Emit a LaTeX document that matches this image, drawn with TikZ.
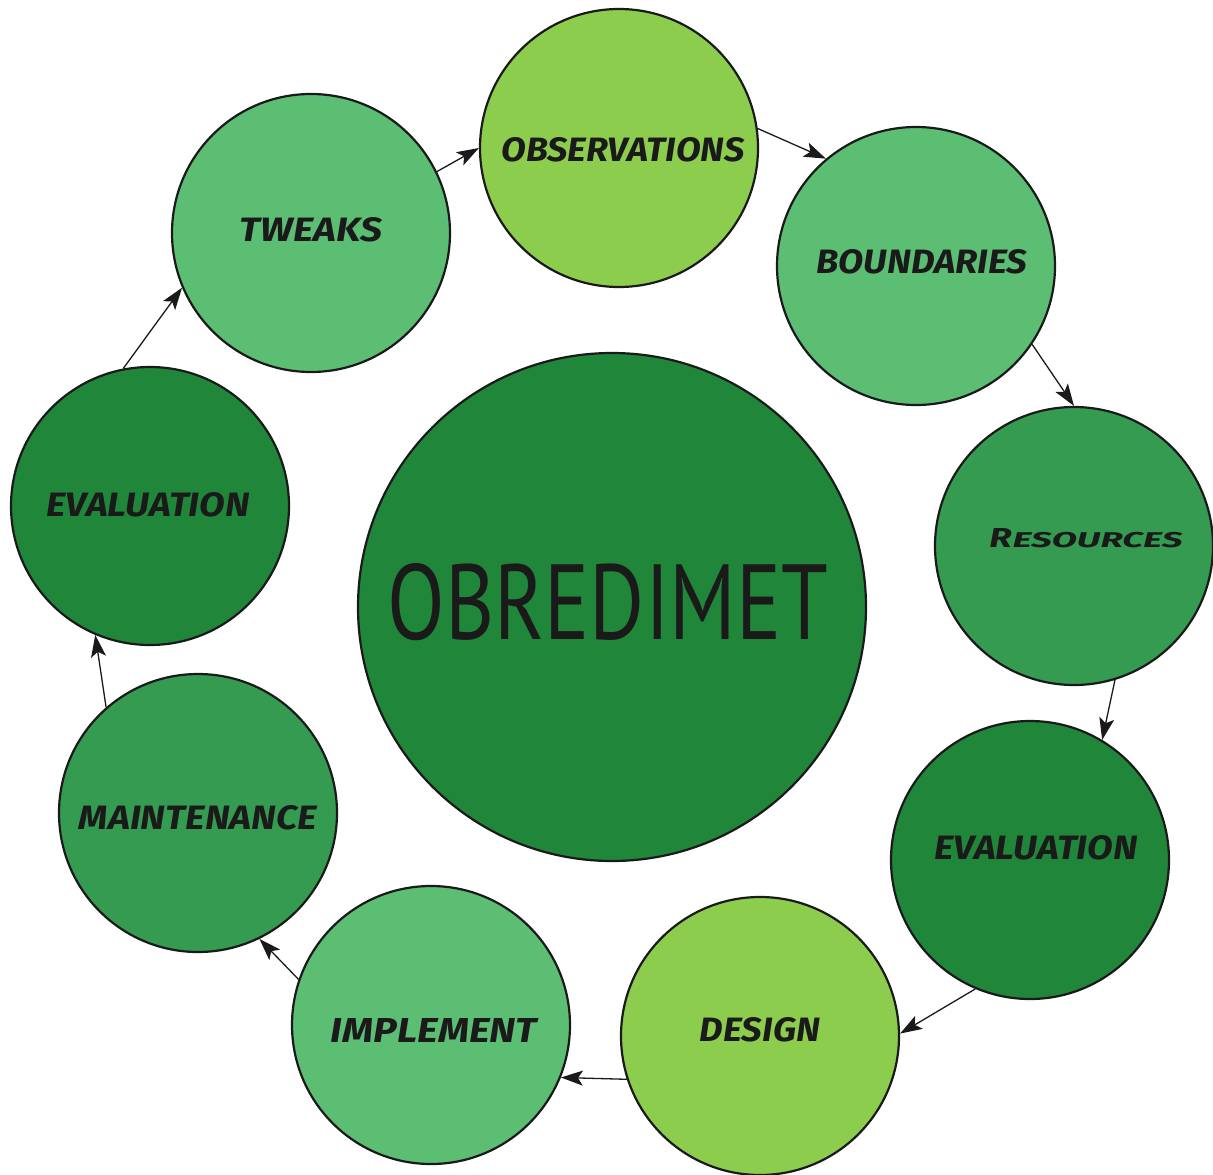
\documentclass[tikz,border=0pt]{standalone}
\usepackage{fontspec}
\usepackage{graphicx}
\setmainfont{Fira Sans}
\newfontfamily\ptsans{PT Sans}
\usetikzlibrary{arrows.meta}
\definecolor{cLight}{HTML}{8DCD4D}
\definecolor{cMed}{HTML}{5CBE73}
\definecolor{cMid}{HTML}{359B51}
\definecolor{cDark}{HTML}{20873A}
\definecolor{cInk}{HTML}{1A1A1A}
\tikzset{
  stage/.style={circle, draw=cInk, line width=2.2pt, minimum size=278pt, inner sep=0pt},
  hub/.style={circle, draw=cInk, line width=2.2pt, minimum size=508pt, inner sep=0pt, fill=cDark},
  lbl/.style={inner sep=0pt, text=cInk, font=\bfseries\itshape},
  flow/.style={draw=cInk, line width=1.3pt, -{Stealth[length=22pt,width=15pt,inset=5pt]}},
}
\newcommand{\lab}[2]{\resizebox{#1pt}{24pt}{#2}}
\begin{document}
\begin{tikzpicture}[x=1pt,y=-1pt]
\useasboundingbox (0,0) rectangle (1213,1175);
% hub
\node[hub] (hub) at (612,607) {};
\node[lbl, font=\ptsans] (hubt) at (608,602) {\resizebox{440pt}{76pt}{OBREDIMET}};
% stages
\node[stage, fill=cLight] (obs) at (619,148) {};
\node[stage, fill=cMed]   (bnd) at (916,266) {};
\node[stage, fill=cMid]   (res) at (1074,546) {};
\node[stage, fill=cDark]  (evr) at (1030,860) {};
\node[stage, fill=cLight] (des) at (760,1036) {};
\node[stage, fill=cMed]   (imp) at (431,1025) {};
\node[stage, fill=cMid]   (mnt) at (198,813) {};
\node[stage, fill=cDark]  (evl) at (150,506) {};
\node[stage, fill=cMed]   (twk) at (311,233) {};
% labels
\node[lbl] (obst) at (623,150) {\lab{243}{OBSERVATIONS}};
\node[lbl] (bndt) at (922,262) {\lab{211}{BOUNDARIES}};
\node[lbl] (rest) at (1086,538) {\resizebox{193pt}{19pt}{R\kern0.02em\scalebox{1}[0.78]{ESOURCES}}};
\node[lbl] (evrt) at (1036,848) {\lab{203}{EVALUATION}};
\node[lbl] (dest) at (760,1030) {\lab{120}{DESIGN}};
\node[lbl] (impt) at (434,1030) {\lab{206}{IMPLEMENT}};
\node[lbl] (mntt) at (198,818) {\lab{238}{MAINTENANCE}};
\node[lbl] (evlt) at (148,505) {\lab{203}{EVALUATION}};
\node[lbl] (twkt) at (311,230) {\lab{142}{TWEAKS}};
% connectors
\draw[flow] (obs.8.6) -- (bnd.130);
\draw[flow] (bnd.326) -- (res.90);
\draw[flow] (res.287) -- (evr.59.5);
\draw[flow] (evr.247.6) -- (des.1);
\draw[flow] (des.198.2) -- (imp.338.6);
\draw[flow] (imp.161.6) -- (mnt.296.7);
\draw[flow] (mnt.131.8) -- (evl.247.7);
\draw[flow] (evl.101.5) -- (twk.203.8);
\draw[flow] (twk.26.6) -- (obs.180);
\end{tikzpicture}
\end{document}
